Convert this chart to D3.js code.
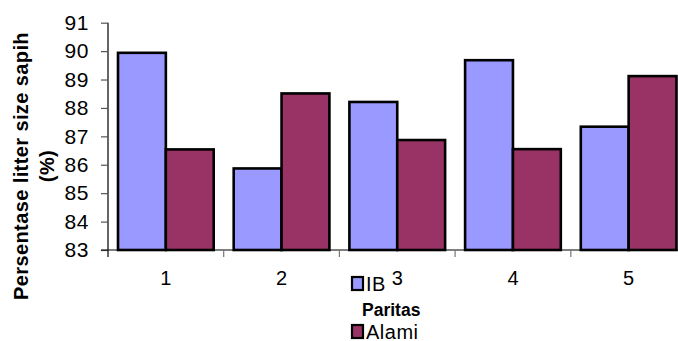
<!DOCTYPE html>
<html><head><meta charset="utf-8">
<script src="https://cdn.jsdelivr.net/npm/d3@7"></script>
<style>body{margin:0;background:#fff;} svg{display:block;font-family:"Liberation Sans",Arial,sans-serif;}</style>
</head><body>
<svg id="c" width="678" height="341"></svg>
<script>
const categories = ["1","2","3","4","5"];
const seriesNames = ["IB","Alami"];
const ibValues = [89.94, 85.87, 88.21, 89.68, 87.34];
const alamiValues = [86.54, 88.51, 86.87, 86.55, 89.12];
const yTicks = [83,84,85,86,87,88,89,90,91];
const colors = ["#9999FF","#993366"];

(function(){
const svg = d3.select("#c");
const mLeft = 108, mTop = 22.7, mBottom = 250, catW = 115.7;
const x = d3.scaleBand().domain(categories).range([mLeft, mLeft + catW*categories.length]).paddingInner(20/115.7).paddingOuter(10/115.7);
const y = d3.scaleLinear().domain([83,91]).range([mBottom, mTop]);
const x1 = d3.scaleBand().domain(seriesNames).range([0, x.bandwidth()]);

const data = categories.map((c,i)=>({c, vals:[ibValues[i], alamiValues[i]]}));

// y axis
const yAxis = svg.append("g").attr("transform",`translate(${mLeft},0)`)
  .call(d3.axisLeft(y).tickValues(yTicks).tickSize(7).tickPadding(12).tickFormat(d3.format("d")));
yAxis.select(".domain").attr("stroke","#000").attr("stroke-width",1.2).attr("d",`M0,${mTop}V${mBottom+7}`);
yAxis.selectAll(".tick line").attr("stroke","#555").attr("stroke-width",1.2);
yAxis.selectAll(".tick text").attr("font-size",21).attr("letter-spacing",0.6).attr("fill","#000").attr("font-family","Liberation Sans, Arial");

// x axis
const boundaries = d3.range(categories.length+1).map(i=>mLeft+i*catW);
const xg = svg.append("g");
xg.append("line").attr("x1",mLeft-7).attr("x2",mLeft+catW*5).attr("y1",mBottom).attr("y2",mBottom).attr("stroke","#000").attr("stroke-width",1.2);
xg.selectAll(".bt").data(boundaries.slice(1)).join("line").attr("x1",d=>d).attr("x2",d=>d).attr("y1",mBottom).attr("y2",mBottom+7).attr("stroke","#777").attr("stroke-width",1.2);
xg.selectAll(".cl").data(categories).join("text")
  .attr("x",d=>x(d)+x.bandwidth()/2).attr("y",285).attr("text-anchor","middle")
  .attr("font-size",20).text(d=>d);

// bars
const g = svg.append("g");
data.forEach(d=>{
  d.vals.forEach((v,j)=>{
    g.append("rect")
      .attr("x", x(d.c)+x1(seriesNames[j]))
      .attr("y", y(v))
      .attr("width", x1.bandwidth())
      .attr("height", mBottom - y(v))
      .attr("fill", colors[j]).attr("stroke","#000").attr("stroke-width",2.6);
  });
});

// y title
const yt = svg.append("text").attr("transform","translate(0,166) rotate(-90)")
  .attr("text-anchor","middle").attr("font-weight","bold").attr("font-size",20).attr("letter-spacing",0.4);
yt.append("tspan").attr("x",0).attr("y",28).text("Persentase litter size sapih");
yt.append("tspan").attr("x",0).attr("y",54).text("(%)");

// x title
svg.append("text").attr("x",362).attr("y",316).attr("font-weight","bold").attr("font-size",17.5).text("Paritas");

// legend
const leg = svg.append("g");
const legY = [277, 325];
seriesNames.forEach((n,i)=>{
  leg.append("rect").attr("x",352).attr("y",legY[i]).attr("width",11).attr("height",13)
    .attr("fill",colors[i]).attr("stroke","#000").attr("stroke-width",2.2);
  leg.append("text").attr("x",366).attr("y",legY[i]+14).attr("font-size",20).attr("letter-spacing",0.5).text(n);
});
})();
</script>
</body></html>
